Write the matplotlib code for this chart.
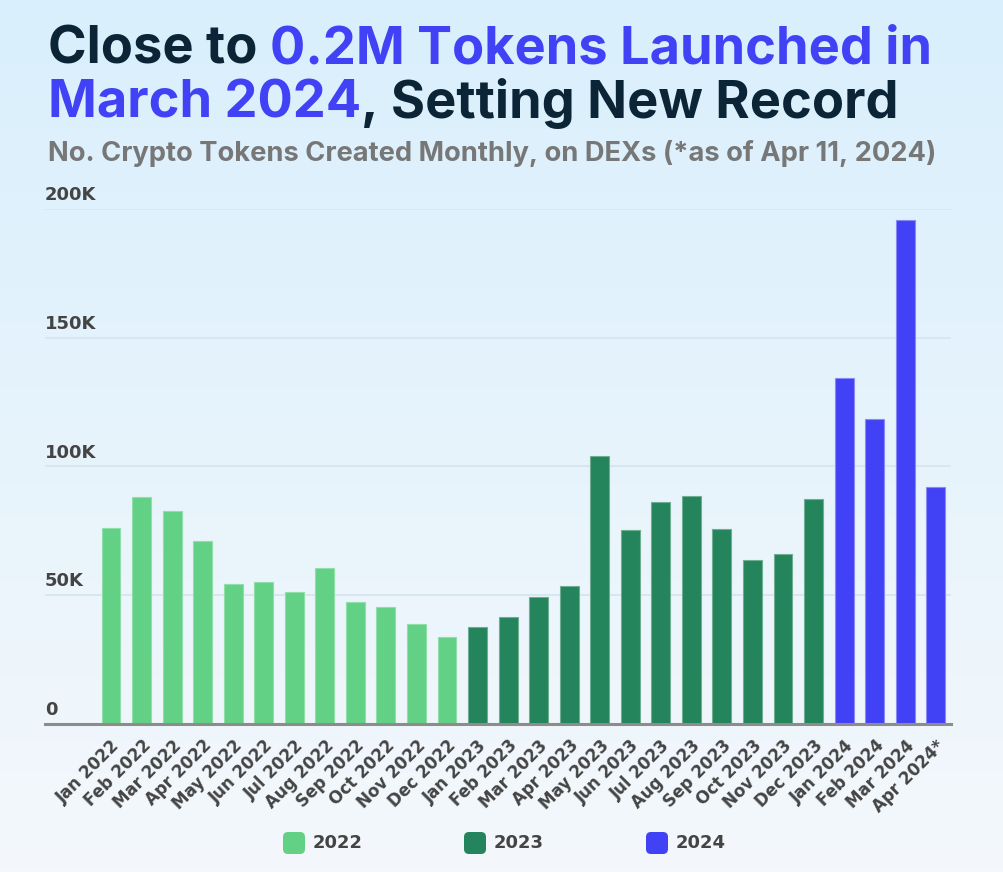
import numpy as np
import matplotlib
matplotlib.use("Agg")
import matplotlib.pyplot as plt
from matplotlib import transforms
from matplotlib.patches import FancyBboxPatch

# ---------------- data ----------------
months = ["Jan 2022", "Feb 2022", "Mar 2022", "Apr 2022", "May 2022", "Jun 2022",
          "Jul 2022", "Aug 2022", "Sep 2022", "Oct 2022", "Nov 2022", "Dec 2022",
          "Jan 2023", "Feb 2023", "Mar 2023", "Apr 2023", "May 2023", "Jun 2023",
          "Jul 2023", "Aug 2023", "Sep 2023", "Oct 2023", "Nov 2023", "Dec 2023",
          "Jan 2024", "Feb 2024", "Mar 2024", "Apr 2024*"]
tokens = [76100, 88200, 82700, 71100, 54400, 55100, 51300, 60600, 47400, 45400, 38800, 33800,
          37700, 41600, 49300, 53600, 104100, 75300, 86200, 88500, 75700, 63700, 66000, 87400,
          134400, 118400, 195700, 92000]
years = ["2022"] * 12 + ["2023"] * 12 + ["2024"] * 4
legend_years = ["2022", "2023", "2024"]
yticks = [0, 50000, 100000, 150000, 200000]
ytick_labels = ["0", "50K", "100K", "150K", "200K"]

year_colors = {"2022": "#62d186", "2023": "#24845c", "2024": "#4141f5"}
year_edges = {"2022": "#8fe0a8", "2023": "#6fae92", "2024": "#8a8af7"}

W, H = 1004, 872
fig = plt.figure(figsize=(W / 100, H / 100), dpi=100)

# background gradient
bg = fig.add_axes([0, 0, 1, 1], zorder=-10)
top = np.array([0xd9, 0xef, 0xfd]) / 255
bot = np.array([0xf4, 0xf8, 0xfb]) / 255
t = np.linspace(0, 1, 256)[:, None]
grad = (top[None, :] * (1 - t) + bot[None, :] * t)[:, None, :]
bg.imshow(grad, aspect="auto", extent=[0, 1, 0, 1])
bg.axis("off")

# main axes
ax_l, ax_r, ax_b, ax_t = 45, 951, 724, 209
ax = fig.add_axes([ax_l / W, 1 - ax_b / H, (ax_r - ax_l) / W, (ax_b - ax_t) / H])
ax.patch.set_alpha(0)
x = np.arange(len(months))
colors = [year_colors[y] for y in years]
edges = [year_edges[y] for y in years]
ax.bar(x, tokens, width=0.62, color=colors, edgecolor=edges, linewidth=0.8, zorder=3)
ax.set_ylim(0, 200000)
ax.set_xlim(-2.16, 27.5)
for s in ["top", "right", "left"]:
    ax.spines[s].set_visible(False)
ax.spines["bottom"].set_color("#8c8c8c")
ax.spines["bottom"].set_linewidth(2.2)
ax.spines["bottom"].set_zorder(4)
ax.set_yticks(yticks)
ax.tick_params(axis="y", length=0, labelleft=False)
ax.grid(axis="y", color="#d3e5ee", linewidth=1.2, zorder=0)
ax.set_axisbelow(True)

lbl_tr = transforms.offset_copy(ax.get_yaxis_transform(), fig=fig, x=0, y=5, units="dots")
for v, lab in zip(yticks, ytick_labels):
    ax.text(0, v, lab, transform=lbl_tr, ha="left", va="bottom",
            fontsize=13, fontweight="bold", color="#444444", family="DejaVu Sans")

ax.set_xticks(x)
ax.set_xticklabels(months, rotation=45, ha="right", rotation_mode="anchor",
                   fontsize=12, fontweight="bold", color="#444444", family="DejaVu Sans")
ax.tick_params(axis="x", length=0, pad=9)

# ---------------- titles ----------------
renderer = fig.canvas.get_renderer()
dark = "#0b2536"
blue = "#4141f5"

def fit_size(text, target_px, family, weight, base=40):
    tt = fig.text(0, 0, text, fontsize=base, family=family, fontweight=weight)
    w = tt.get_window_extent(renderer).width
    tt.remove()
    return base * target_px / w

def multi(parts, x0, ybase, size, family="Inter", weight="bold"):
    xx = x0
    for txt, col in parts:
        tt = fig.text(xx / W, 1 - ybase / H, txt, fontsize=size, family=family,
                      fontweight=weight, color=col, va="baseline", ha="left")
        ext = tt.get_window_extent(renderer)
        xx = ext.x1

line1 = "Close to 0.2M Tokens Launched in"
size1 = fit_size(line1, 884, "Inter", "bold")
multi([("Close to ", dark), ("0.2M Tokens Launched in", blue)], 48, 64, size1)
multi([("March 2024", blue), (", Setting New Record", dark)], 48, 118, size1)

sub = "No. Crypto Tokens Created Monthly, on DEXs (*as of Apr 11, 2024)"
size2 = fit_size(sub, 887, "Inter", "bold")
fig.text(48 / W, 1 - 161 / H, sub, fontsize=size2, family="Inter", fontweight="bold",
         color="#777777", va="baseline", ha="left")

# ---------------- legend ----------------
leg_x = [283, 464, 646]
leg_y = 843
for lx, yr in zip(leg_x, legend_years):
    p = FancyBboxPatch(((lx) / W, 1 - (leg_y + 11) / H), 22 / W, 22 / H,
                       boxstyle="round,pad=0,rounding_size=0.005",
                       transform=fig.transFigure, facecolor=year_colors[yr],
                       edgecolor="none", mutation_aspect=W / H)
    fig.add_artist(p)
    fig.text((lx + 30) / W, 1 - leg_y / H, yr, fontsize=13, fontweight="bold",
             color="#444444", va="center", ha="left", family="DejaVu Sans")

fig.savefig("out.png", dpi=100)
